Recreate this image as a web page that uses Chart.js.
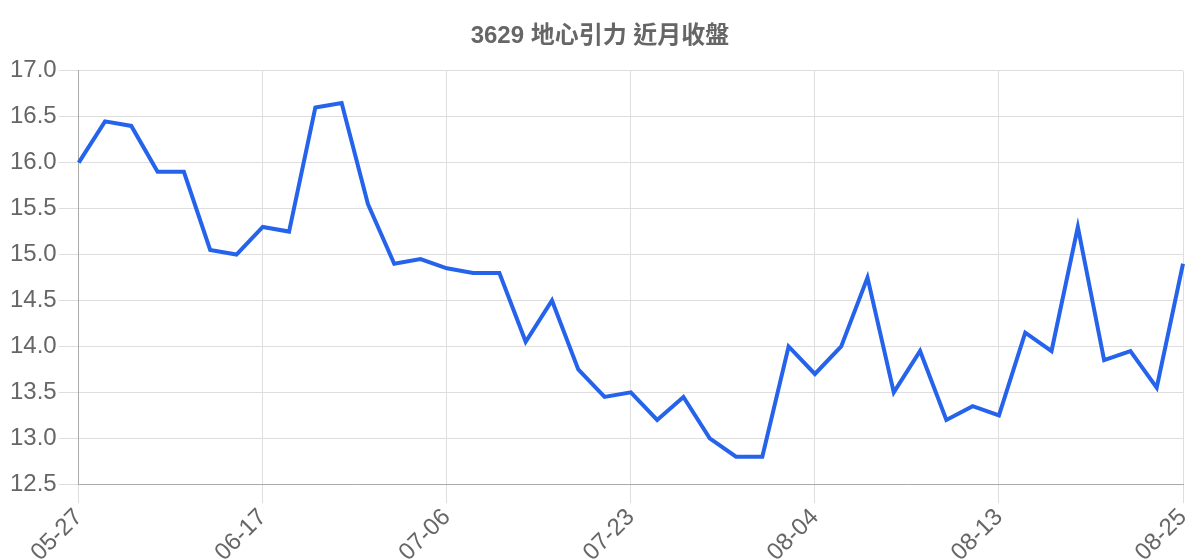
<!DOCTYPE html>
<html>
<head>
<meta charset="utf-8">
<script src="https://cdn.jsdelivr.net/npm/chart.js@4.4.1/dist/chart.umd.min.js"></script>
<style>
html,body{margin:0;padding:0;background:#fff;}
#wrap{width:1200px;height:560px;position:relative;overflow:hidden;}
</style>
</head>
<body>
<div id="wrap"><canvas id="c"></canvas></div>
<script>
const titleText = '3629 地心引力 近月收盤';
const dates = [
  '05-27','05-30','06-02','06-05','06-08','06-11','06-14',
  '06-17','06-20','06-23','06-26','06-29','07-01','07-03',
  '07-06','07-08','07-11','07-13','07-15','07-18','07-21',
  '07-23','07-25','07-26','07-28','07-30','07-31','08-02',
  '08-04','08-05','08-06','08-07','08-08','08-11','08-12',
  '08-13','08-14','08-15','08-18','08-19','08-20','08-22',
  '08-25'
];
const closes = [
  16.0, 16.45, 16.4, 15.9, 15.9, 15.05, 15.0,
  15.3, 15.25, 16.6, 16.65, 15.55, 14.9, 14.95,
  14.85, 14.8, 14.8, 14.05, 14.5, 13.75, 13.45,
  13.5, 13.2, 13.45, 13.0, 12.8, 12.8, 14.0,
  13.7, 14.0, 14.75, 13.5, 13.95, 13.2, 13.35,
  13.25, 14.15, 13.95, 15.3, 13.85, 13.95, 13.55,
  14.9
];
const yMin = 12.5, yMax = 17.0, yStep = 0.5;
const labelEvery = 7;

const fontFam = "'Liberation Sans', Arial, 'Noto Sans CJK TC', sans-serif";

new Chart(document.getElementById('c'), {
  type: 'line',
  data: {
    labels: dates,
    datasets: [{
      label: '收盤',
      data: closes,
      borderColor: '#2563eb',
      backgroundColor: '#2563eb',
      borderWidth: 4,
      pointRadius: 0,
      pointHoverRadius: 0,
      tension: 0,
      fill: false
    }]
  },
  options: {
    responsive: true,
    maintainAspectRatio: false,
    animation: false,
    layout: { padding: { left: 8, right: 8, top: 12, bottom: -7 } },
    plugins: {
      legend: { display: false },
      tooltip: { enabled: false },
      title: {
        display: true,
        text: titleText,
        color: '#666',
        font: { family: fontFam, size: 24, weight: 'bold' },
        padding: { top: 10, bottom: 20 }
      }
    },
    scales: {
      x: {
        afterFit: function(scale) { scale.paddingRight = 17; },
        grid: { color: '#dedede', tickLength: 19, lineWidth: 1 },
        border: { color: '#aaaaaa', width: 1 },
        ticks: {
          autoSkip: false,
          minRotation: 45,
          maxRotation: 45,
          padding: 0,
          color: '#666',
          font: { family: fontFam, size: 24 },
          callback: function(v, i) { return i % labelEvery === 0 ? dates[i] : null; }
        }
      },
      y: {
        min: yMin,
        max: yMax,
        grid: { color: '#dedede', tickLength: 20, lineWidth: 1 },
        border: { color: '#aaaaaa', width: 1 },
        ticks: {
          stepSize: yStep,
          padding: 2,
          color: '#666',
          font: { family: fontFam, size: 24 },
          callback: v => Number(v).toFixed(1)
        }
      }
    }
  }
});
</script>
</body>
</html>
